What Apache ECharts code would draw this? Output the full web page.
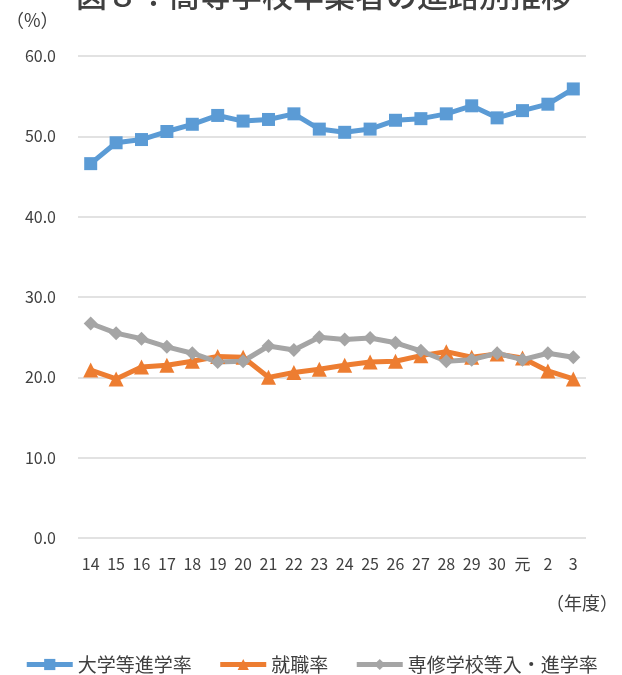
<!DOCTYPE html>
<html>
<head>
<meta charset="utf-8">
<script src="https://cdn.jsdelivr.net/npm/echarts@6/dist/echarts.min.js"></script>
<style>
  html, body { margin: 0; padding: 0; background: #fff; }
  #chart { width: 622px; height: 675px; }
</style>
</head>
<body>
<div id="chart"></div>
<script>
// 年度（平成14年度〜令和3年度）
const years = ['14', '15', '16', '17', '18', '19', '20', '21', '22', '23', '24', '25', '26', '27', '28', '29', '30', '元', '2', '3']
const univRate = [46.6, 49.2, 49.6, 50.6, 51.5, 52.6, 51.9, 52.1, 52.8, 50.9, 50.5, 50.9, 52.0, 52.2, 52.8, 53.8, 52.3, 53.2, 54.0, 55.9]
const jobRate = [20.9, 19.8, 21.3, 21.5, 22.0, 22.6, 22.5, 20.0, 20.6, 21.0, 21.5, 21.9, 22.0, 22.7, 23.2, 22.5, 22.9, 22.4, 20.8, 19.8]
const senshuRate = [26.7, 25.5, 24.8, 23.8, 23.0, 21.9, 22.0, 23.9, 23.4, 25.0, 24.7, 24.9, 24.3, 23.3, 22.0, 22.2, 23.0, 22.2, 23.0, 22.5]
const yTicks = [0, 10, 20, 30, 40, 50, 60]

const font = "'Noto Sans CJK JP', sans-serif"
const chart = echarts.init(document.getElementById('chart'))

const option = {
  animation: false,
  textStyle: { fontFamily: font },
  graphic: [
    {
      type: 'text',
      left: 76,
      top: -20,
      style: { text: '図８：高等学校卒業者の進路別推移', font: '500 31px ' + font, fill: '#404040' }
    },
    {
      type: 'text',
      left: 6,
      top: 11,
      style: { text: '（%）', font: '18px ' + font, fill: '#404040' }
    },
    {
      type: 'text',
      left: 546,
      top: 594,
      style: { text: '（年度）', font: '18px ' + font, fill: '#404040' }
    }
  ],
  grid: { left: 78, right: 36, top: 56, bottom: 137 },
  xAxis: {
    type: 'category',
    data: years,
    boundaryGap: true,
    axisLine: { show: false },
    axisTick: { show: false },
    axisLabel: { color: '#404040', fontSize: 16, margin: 18, interval: 0 }
  },
  yAxis: {
    type: 'value',
    min: yTicks[0],
    max: yTicks[yTicks.length - 1],
    interval: 10,
    axisLine: { show: false },
    axisTick: { show: false },
    axisLabel: { color: '#404040', fontSize: 16, margin: 22, formatter: v => v.toFixed(1) },
    splitLine: { lineStyle: { color: '#d9d9d9', width: 1.5 } }
  },
  legend: {
    bottom: -4,
    left: 'center',
    itemWidth: 46,
    itemHeight: 14,
    itemGap: 26,
    textStyle: { color: '#404040', fontSize: 19 },
    lineStyle: { width: 5 },
    data: ['大学等進学率', '就職率', '専修学校等入・進学率']
  },
  series: [
    {
      name: '大学等進学率',
      type: 'line',
      data: univRate,
      symbol: 'rect',
      symbolSize: 13,
      color: '#5b9bd5',
      lineStyle: { width: 5 }
    },
    {
      name: '就職率',
      type: 'line',
      data: jobRate,
      symbol: 'triangle',
      symbolSize: 15,
      color: '#ed7d31',
      lineStyle: { width: 5 }
    },
    {
      name: '専修学校等入・進学率',
      type: 'line',
      data: senshuRate,
      symbol: 'diamond',
      symbolSize: 14,
      color: '#a5a5a5',
      lineStyle: { width: 5 }
    }
  ]
}
chart.setOption(option)
</script>
</body>
</html>
